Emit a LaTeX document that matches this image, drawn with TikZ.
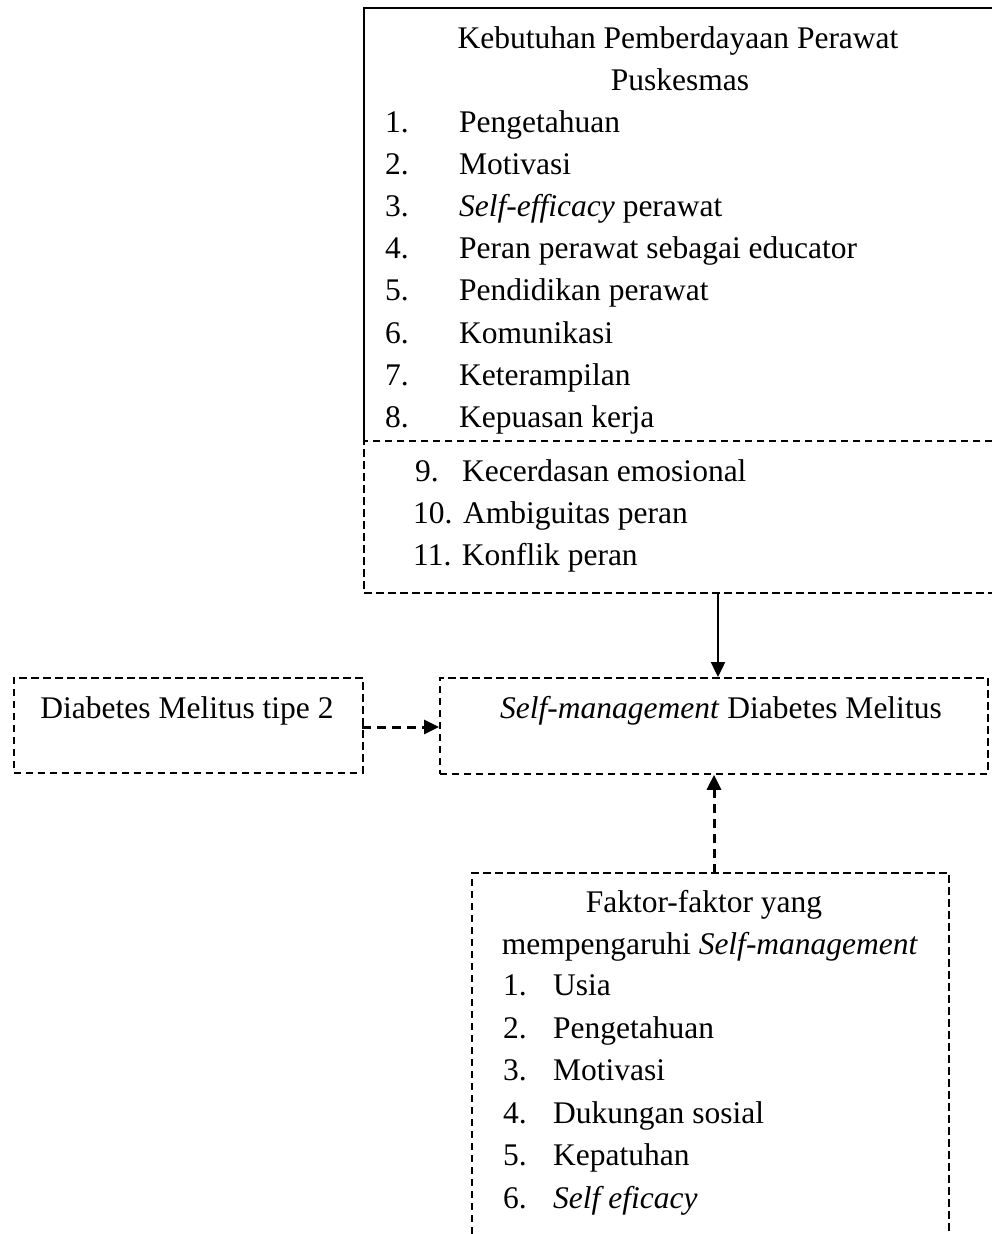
\documentclass[tikz,border=0pt]{standalone}
\usepackage{fontspec}
\setmainfont{Liberation Serif}
\usetikzlibrary{arrows.meta}
\newcommand{\fs}{\fontsize{31.5}{42}\selectfont}
\tikzset{
  solidline/.style={line width=2pt},
  dline/.style={line width=1.8pt, dash pattern=on 7.5pt off 4.5pt},
  dbox/.style={draw, dline, inner sep=0pt, anchor=north west},
  area/.style={inner sep=0pt, anchor=north west},
  tip/.style={-{Triangle[length=15pt,width=14pt]}},
  solidarrow/.style={line width=2.4pt, tip},
  dasharrow/.style={line width=3pt, dash pattern=on 9pt off 6pt, tip},
  itm/.style={anchor=base west, inner sep=0pt, font=\fs},
  ttl/.style={anchor=base, inner sep=0pt, font=\fs},
}
\begin{document}
\begin{tikzpicture}[x=1pt,y=-1pt]
\useasboundingbox (0,0) rectangle (992,1234);

% top box
\node[area, minimum width=628pt, minimum height=585pt] (top) at (364,8) {};
\coordinate (tl) at (364,8);
\coordinate (tr) at (992,8);
\coordinate (ml) at (364,441);
\coordinate (mr) at (992,441);
\coordinate (bl) at (364,593);
\coordinate (br) at (992,593);
\draw[solidline, line cap=rect] (tr) -- (tl) -- (ml);
\draw[dline] (mr) -- (ml) -- (bl) -- (br);

\node[ttl] (t1) at (678,48) {Kebutuhan Pemberdayaan Perawat};
\node[ttl] (t2) at (680,90) {Puskesmas};
\node[itm] (n1) at (385,132) {1.}; \node[itm] (i1) at (459,132) {Pengetahuan};
\node[itm] (n2) at (385,174) {2.}; \node[itm] (i2) at (459,174) {Motivasi};
\node[itm] (n3) at (385,216) {3.}; \node[itm] (i3) at (459,216) {\textit{Self-efficacy} perawat};
\node[itm] (n4) at (385,258) {4.}; \node[itm] (i4) at (459,258) {Peran perawat sebagai educator};
\node[itm] (n5) at (385,300) {5.}; \node[itm] (i5) at (459,300) {Pendidikan perawat};
\node[itm] (n6) at (385,343) {6.}; \node[itm] (i6) at (459,343) {Komunikasi};
\node[itm] (n7) at (385,385) {7.}; \node[itm] (i7) at (459,385) {Keterampilan};
\node[itm] (n8) at (385,427) {8.}; \node[itm] (i8) at (459,427) {Kepuasan kerja};
\node[itm] (n9) at (415,481) {9.}; \node[itm] (i9) at (462,481) {Kecerdasan emosional};
\node[itm] (i10) at (413,523) {10. Ambiguitas peran};
\node[itm] (i11) at (413,565) {11. Konflik peran};

% middle boxes
\node[dbox, minimum width=349pt, minimum height=95pt] (dm) at (13,677) {};
\node[ttl] (dmt) at (187,718) {Diabetes Melitus tipe 2};
\node[dbox, minimum width=548pt, minimum height=96pt] (sm) at (439,677) {};
\node[ttl] (smt) at (721,718) {\textit{Self-management} Diabetes Melitus};

% bottom box (open at bottom)
\node[area, minimum width=477pt, minimum height=361pt] (fk) at (472,873) {};
\coordinate (fbl) at (472,1234);
\coordinate (ftl) at (472,873);
\coordinate (ftr) at (949,873);
\coordinate (fbr) at (949,1234);
\draw[dline] (fbl) -- (ftl) -- (ftr) -- (fbr);

\node[ttl] (f1) at (704,912) {Faktor-faktor yang};
\node[ttl] (f2) at (710,954) {mempengaruhi \textit{Self-management}};
\node[itm] (m1) at (503,995) {1.}; \node[itm] (j1) at (553,995) {Usia};
\node[itm] (m2) at (503,1038) {2.}; \node[itm] (j2) at (553,1038) {Pengetahuan};
\node[itm] (m3) at (503,1080) {3.}; \node[itm] (j3) at (553,1080) {Motivasi};
\node[itm] (m4) at (503,1123) {4.}; \node[itm] (j4) at (553,1123) {Dukungan sosial};
\node[itm] (m5) at (503,1165) {5.}; \node[itm] (j5) at (553,1165) {Kepatuhan};
\node[itm] (m6) at (503,1208) {6.}; \node[itm] (j6) at (553,1208) {\textit{Self eficacy}};

% connectors
\coordinate (a1) at (718,594);
\draw[solidarrow] (a1) -- (a1 |- sm.north);
\coordinate (a2) at (362,727);
\draw[dasharrow] (a2) -- (a2 -| sm.west);
\coordinate (a3) at (714,873);
\draw[dasharrow] (a3) -- (a3 |- sm.south);
\end{tikzpicture}
\end{document}
